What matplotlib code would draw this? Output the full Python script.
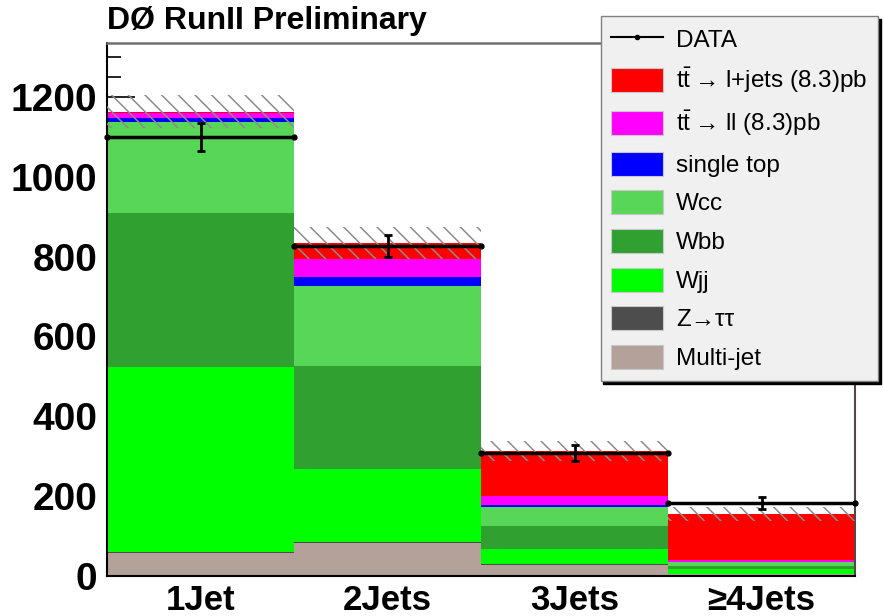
import matplotlib
matplotlib.use("Agg")
import matplotlib.pyplot as plt
from matplotlib.patches import Patch
from matplotlib.lines import Line2D
import numpy as np

plt.rcParams['font.family'] = ['Liberation Sans', 'DejaVu Sans']
plt.rcParams['mathtext.fontset'] = 'custom'
plt.rcParams['mathtext.rm'] = 'Liberation Sans'
plt.rcParams['mathtext.it'] = 'Liberation Sans'
plt.rcParams['hatch.linewidth'] = 1.1

# jet multiplicity bins
bins = ['1Jet', '2Jets', '3Jets', '\u22654Jets']

# expected events per sample, stacked bottom to top
multijet = [58, 83, 28, 5]
ztautau  = [2, 2, 1, 1]
wjj      = [464, 183, 39, 12]
wbb      = [386, 258, 57, 8]
wcc      = [228, 200, 48, 8]
singletop = [10, 23, 5, 2]
tt_ll    = [12, 45, 22, 3]
tt_ljets = [3, 41, 113, 116]
syst_err = [42, 40, 25, 18]

# observed
data     = [1100, 827, 308, 183]
data_err = [35, 28, 20, 16]

ttbar = r'$\mathrm{t\bar{t}}$'
samples = [
    ('Multi-jet', multijet, '#b4a199'),
    ('Z\u2192\u03c4\u03c4', ztautau, '#4d4d4d'),
    ('Wjj', wjj, '#00ff00'),
    ('Wbb', wbb, '#30a030'),
    ('Wcc', wcc, '#58d658'),
    ('single top', singletop, '#0000ff'),
    (ttbar + '\u2009\u2192 ll (8.3)pb', tt_ll, '#ff00ff'),
    (ttbar + '\u2009\u2192 l+jets (8.3)pb', tt_ljets, '#ff0000'),
]

fig = plt.figure(figsize=(8.83, 6.16), dpi=100)
ax = fig.add_axes([107/883, 40/616, 748/883, 533/616])

x = np.arange(len(bins))
bottom = np.zeros(len(bins))
for name, vals, col in samples:
    ax.bar(x, vals, width=1.0, bottom=bottom, color=col, linewidth=0, zorder=2)
    bottom += np.array(vals)
total = bottom

# systematic band
err = np.array(syst_err)
ax.bar(x, 2*err, width=1.0, bottom=total-err, fill=False, hatch='\\\\',
       edgecolor='#8c8c8c', linewidth=0, zorder=3)

# data points: line across bin plus vertical error
ax.hlines(data, x-0.5, x+0.5, color='black', lw=2.5, zorder=5)
ax.plot(np.concatenate([x-0.5, x+0.5]), np.concatenate([data, data]), 'o',
        color='black', ms=3.5, zorder=5, clip_on=False)
ax.errorbar(x, data, yerr=data_err, fmt='none', ecolor='black', elinewidth=2,
            capsize=3, capthick=2, zorder=6)

ax.set_xlim(-0.5, len(bins)-0.5)
ax.set_ylim(0, 1335)
ax.set_xticks(x)
ax.set_xticklabels(bins, fontsize=25, fontweight='bold')
ax.set_xticks(np.arange(len(bins)+1)-0.5, minor=True)
ax.tick_params(axis='x', which='major', length=0, pad=6)
ax.tick_params(axis='x', which='minor', direction='in', length=12, width=1.2)
ax.set_yticks(np.arange(0, 1201, 200))
ax.set_yticks(np.arange(0, 1301, 50), minor=True)
ax.tick_params(axis='y', which='major', direction='in', length=20, width=1.2,
               labelsize=28, pad=7)
ax.tick_params(axis='y', which='minor', direction='in', length=10, width=1.2)
for lbl in ax.get_yticklabels():
    lbl.set_fontweight('bold')

for side in ['left', 'bottom']:
    ax.spines[side].set_linewidth(1.5)
ax.spines['top'].set_color('#707070')
ax.spines['right'].set_color('#504848')
ax.spines['top'].set_linewidth(1.8)
ax.spines['right'].set_linewidth(1.5)

fig.text(107/883, 1-21/616, 'D\u00d8 RunII Preliminary', fontsize=23,
         fontweight='bold', va='center', ha='left')

handles = [Line2D([0], [0], color='black', lw=1.5, marker='o', ms=3)]
labels = ['DATA']
for name, vals, col in reversed(samples):
    handles.append(Patch(facecolor=col, edgecolor='#c8c8c8', lw=0.8))
    labels.append(name)
leg = fig.legend(handles, labels, loc='upper right',
                 bbox_to_anchor=(878/883, 1-16/616), fontsize=17.5,
                 frameon=True, fancybox=False, shadow={'color': 'black', 'alpha': 1},
                 handlelength=2.1, handleheight=1.15, labelspacing=0.55,
                 borderpad=0.45, handletextpad=0.55, borderaxespad=0)
leg.get_frame().set_facecolor('#f0f0f0')
leg.get_frame().set_edgecolor('#808080')
leg.get_frame().set_linewidth(1.0)

fig.savefig('out.png', dpi=100)
